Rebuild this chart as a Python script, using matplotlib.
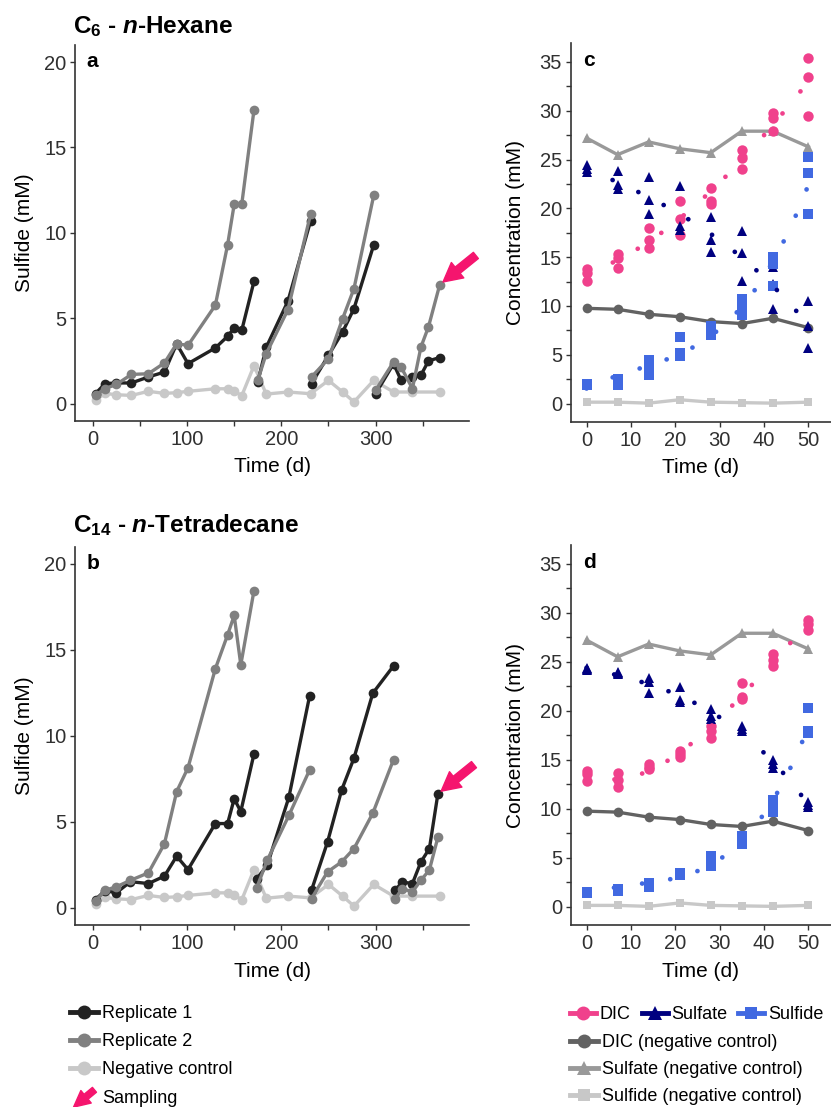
import numpy as np
import matplotlib
matplotlib.use("Agg")
import matplotlib.pyplot as plt
from matplotlib.lines import Line2D
from matplotlib.legend_handler import HandlerBase
from matplotlib.patches import FancyArrowPatch

plt.rcParams['font.family'] = ['Liberation Sans', 'DejaVu Sans']
plt.rcParams['mathtext.fontset'] = 'custom'
plt.rcParams['mathtext.rm'] = 'Liberation Sans'
plt.rcParams['mathtext.it'] = 'Liberation Sans:italic'
plt.rcParams['mathtext.bf'] = 'Liberation Sans:bold'
plt.rcParams['mathtext.bfit'] = 'Liberation Sans:bold:italic'

# ---------------- data: sulfide time courses (panels a, b) ----------------
HEX_TIME_SEGS = [[3, 13, 25, 41, 59, 76, 89, 101, 130, 143, 150, 158, 171],
                 [175, 184, 207, 231],
                 [232, 250, 265, 277, 298],
                 [300, 319, 327, 339, 348, 356, 368]]
HEX_REP1 = [[0.59, 1.17, 1.21, 1.21, 1.56, 1.85, 3.5, 2.34, 3.26, 3.94, 4.43, 4.29, 7.16],
            [1.27, 3.3, 6.0, 10.7],
            [1.17, 2.83, 4.2, 5.56, 9.3],
            [0.58, 2.34, 1.36, 1.56, 1.66, 2.5, 2.7]]
HEX_REP2 = [[0.49, 0.88, 1.12, 1.71, 1.75, 2.38, 3.51, 3.41, 5.76, 9.3, 11.67, 11.67, 17.2],
            [1.37, 2.93, 5.5, 11.1],
            [1.56, 2.63, 4.98, 6.73, 12.2],
            [0.78, 2.44, 2.14, 0.88, 3.31, 4.49, 6.97]]

TET_TIME_SEGS = [[3, 13, 25, 40, 59, 76, 89, 101, 130, 143, 150, 157, 171],
                 [174, 185, 208, 230],
                 [232, 249, 264, 277, 297, 319],
                 [321, 328, 339, 348, 357, 366]]
TET_REP1 = [[0.48, 1.0, 0.87, 1.52, 1.41, 1.84, 3.0, 2.22, 4.9, 4.9, 6.34, 5.6, 8.95],
            [1.7, 2.47, 6.43, 12.33],
            [1.02, 3.83, 6.86, 8.7, 12.48, 14.07],
            [1.03, 1.5, 1.41, 2.67, 3.44, 6.63]]
TET_REP2 = [[0.4, 1.02, 1.22, 1.6, 2.03, 3.72, 6.76, 8.14, 13.9, 15.87, 17.0, 14.13, 18.45],
            [1.18, 2.76, 5.37, 8.02],
            [0.54, 2.09, 2.67, 3.44, 5.5, 8.62],
            [0.54, 1.12, 0.93, 1.6, 2.2, 4.1]]

NEG_TIME = [3, 13, 25, 41, 59, 76, 89, 101, 130, 143, 150, 158, 171, 184, 207,
            231, 250, 265, 277, 298, 319, 339, 368]
NEG_CTRL = [0.2, 0.6, 0.52, 0.48, 0.72, 0.6, 0.64, 0.72, 0.87, 0.87, 0.74, 0.46, 2.22,
            0.56, 0.68, 0.58, 1.36, 0.68, 0.1, 1.36, 0.68, 0.68, 0.68]

# ---------------- data: incubation concentrations (panels c, d) ----------------
DAYS = [0, 7, 14, 21, 28, 35, 42, 50]
C_DIC = [[13.8, 13.4, 12.6], [15.3, 14.9, 13.9], [18.0, 16.8, 15.9], [20.8, 18.9, 17.3],
         [22.1, 20.8, 20.4], [26.0, 25.2, 24.0], [29.8, 29.3, 27.9], [35.4, 33.5, 29.5]]
C_SULFATE = [[24.4, 24.0, 23.7], [23.8, 22.4, 22.0], [23.2, 20.9, 19.4], [22.3, 18.2, 17.8],
             [19.1, 16.8, 15.5], [17.7, 15.4, 12.6], [14.0, 12.2, 9.7], [10.5, 7.9, 5.7]]
C_SULFIDE = [[2.0, 1.9, 1.9], [2.5, 2.2, 1.9], [4.5, 3.4, 2.9], [6.8, 5.2, 4.9],
             [7.9, 7.4, 7.0], [10.7, 9.8, 9.1], [15.0, 14.3, 12.0], [25.3, 23.6, 19.4]]
D_DIC = [[13.9, 13.5, 12.8], [13.6, 12.9, 12.2], [14.6, 14.3, 14.1], [15.9, 15.6, 15.3],
         [18.4, 17.9, 17.2], [22.8, 21.4, 21.2], [25.8, 25.2, 24.6], [29.3, 28.8, 28.2]]
D_SULFATE = [[24.4, 24.3, 24.2], [23.9, 23.8, 23.7], [23.3, 22.9, 21.8], [22.4, 21.1, 20.9],
             [20.2, 19.5, 19.2], [18.4, 18.1, 17.9], [15.0, 14.6, 14.2], [10.7, 10.4, 10.2]]
D_SULFIDE = [[1.5, 1.4, 1.4], [1.8, 1.7, 1.6], [2.4, 2.2, 2.0], [3.5, 3.3, 3.2],
             [5.2, 4.6, 4.2], [7.2, 6.8, 6.4], [10.9, 10.2, 9.7], [20.3, 17.9, 17.7]]
NC_DIC = [9.76, 9.66, 9.15, 8.9, 8.4, 8.2, 8.74, 7.78]
NC_SULFATE = [27.2, 25.5, 26.8, 26.1, 25.7, 27.9, 27.9, 26.3]
NC_SULFIDE = [0.15, 0.15, 0.05, 0.4, 0.15, 0.1, 0.05, 0.15]

# ---------------- styles ----------------
REP1_C = '#222222'
REP2_C = '#808080'
NEG_C = '#c8c8c8'
PINK = '#f0418c'
NAVY = '#000080'
BLUE = '#4169e1'
NC_DIC_C = '#626262'
NC_SULF_C = '#999999'
NC_SULFIDE_C = '#c8c8c8'
ARROW_C = '#f5156e'
AX_C = '#333333'
TICK_C = '#303030'

fig = plt.figure(figsize=(8.31, 11.07), dpi=100)
W, H = 831.0, 1107.0


def px_axes(l, r, t, b):
    return fig.add_axes([l / W, 1 - b / H, (r - l) / W, (b - t) / H])


ax_a = px_axes(75.3, 469, 45, 420.7)
ax_c = px_axes(571, 831, 43.3, 421.7)
ax_b = px_axes(75.3, 469, 546.7, 925)
ax_d = px_axes(571, 831, 545, 925)


def style(ax):
    for s in ['top', 'right']:
        ax.spines[s].set_visible(False)
    for s in ['left', 'bottom']:
        ax.spines[s].set_color(AX_C)
        ax.spines[s].set_linewidth(1.2)
    ax.tick_params(which='both', direction='out', length=3.5, width=1.0,
                   color=AX_C, labelsize=14.5, labelcolor=TICK_C, pad=3)


def sulfide_panel(ax, segs, rep1, rep2, letter, arrow_target):
    ax.plot(NEG_TIME, NEG_CTRL, '-o', color=NEG_C, lw=2.4, ms=7, mew=0, zorder=2)
    for ts, vs in zip(segs, rep1):
        ax.plot(ts, vs, '-o', color=REP1_C, lw=2.4, ms=7, mew=0, zorder=3)
    for ts, vs in zip(segs, rep2):
        ax.plot(ts, vs, '-o', color=REP2_C, lw=2.4, ms=7, mew=0, zorder=4)
    ax.set_xlim(-18.5, 399)
    ax.set_ylim(-1.0, 21.0)
    ax.set_xticks([0, 100, 200, 300])
    ax.set_xticks([50, 150, 250, 350], minor=True)
    ax.set_yticks([0, 5, 10, 15, 20])
    style(ax)
    ax.set_ylabel('Sulfide (mM)', fontsize=15, va='center')
    ax.yaxis.set_label_coords(-0.130, 0.5)
    ax.set_xlabel('Time (d)', fontsize=15, va='center')
    ax.xaxis.set_label_coords(0.5, -0.122)
    ax.text(0.028, 0.955, letter, transform=ax.transAxes, fontsize=15,
            fontweight='bold', va='center', ha='left')
    tx, ty = arrow_target
    ax.annotate('', xy=(tx, ty), xytext=(26, 21), textcoords='offset points',
                arrowprops=dict(arrowstyle='simple,head_length=0.9,head_width=0.95,tail_width=0.38',
                                color=ARROW_C, mutation_scale=15, shrinkA=0, shrinkB=3),
                annotation_clip=False, zorder=6)


def conc_panel(ax, dic, sulfate, sulfide, letter):
    t = np.array(DAYS, dtype=float)
    ax.plot(t, NC_SULFATE, '-^', color=NC_SULF_C, lw=2.4, ms=7, mew=0, zorder=2)
    ax.plot(t, NC_DIC, '-o', color=NC_DIC_C, lw=2.4, ms=7, mew=0, zorder=2)
    ax.plot(t, NC_SULFIDE, '-s', color=NC_SULFIDE_C, lw=2.4, ms=6, mew=0, zorder=2)
    tt = np.linspace(0, 50, 200)
    for vals, col, mk, ms in [(dic, PINK, 'o', 7.5), (sulfate, NAVY, '^', 7.5), (sulfide, BLUE, 's', 6.5)]:
        arr = np.array(vals, dtype=float)
        xs = np.repeat(t, arr.shape[1])
        ys = arr.ravel()
        ax.plot(xs, ys, ls='none', marker=mk, color=col, ms=ms, mew=0, zorder=3)
        coef = np.polyfit(xs, ys, 3)
        ax.plot(tt, np.polyval(coef, tt), color=col, lw=3.4, ls=(0, (0.02, 6.0)),
                dash_capstyle='round', zorder=4)
    ax.set_xlim(-3.5, 55.1)
    ax.set_ylim(-1.85, 36.9)
    ax.set_xticks([0, 10, 20, 30, 40, 50])
    ax.set_yticks([0, 5, 10, 15, 20, 25, 30, 35])
    ax.set_yticks([2.5, 7.5, 12.5, 17.5, 22.5, 27.5, 32.5], minor=True)
    style(ax)
    ax.set_ylabel('Concentration (mM)', fontsize=15, va='center')
    ax.yaxis.set_label_coords(-0.215, 0.5)
    ax.set_xlabel('Time (d)', fontsize=15, va='center')
    ax.xaxis.set_label_coords(0.5, -0.122)
    ax.text(0.045, 0.955, letter, transform=ax.transAxes, fontsize=15,
            fontweight='bold', va='center', ha='left')


sulfide_panel(ax_a, HEX_TIME_SEGS, HEX_REP1, HEX_REP2, 'a',
              (HEX_TIME_SEGS[-1][-1], HEX_REP2[-1][-1]))
sulfide_panel(ax_b, TET_TIME_SEGS, TET_REP1, TET_REP2, 'b',
              (TET_TIME_SEGS[-1][-1], TET_REP1[-1][-1]))
conc_panel(ax_c, C_DIC, C_SULFATE, C_SULFIDE, 'c')
conc_panel(ax_d, D_DIC, D_SULFATE, D_SULFIDE, 'd')

fig.text(72.7 / W, 1 - 33 / H, r'C$_{\mathbf{6}}$ - $\mathbfit{n}$-Hexane', fontsize=17.5,
         fontweight='bold', ha='left', va='baseline')
fig.text(72.7 / W, 1 - 532 / H, r'C$_{\mathbf{14}}$ - $\mathbfit{n}$-Tetradecane', fontsize=17.5,
         fontweight='bold', ha='left', va='baseline')


# ---------------- legends ----------------
class SamplingKey:
    pass


class SamplingHandler(HandlerBase):
    def create_artists(self, legend, orig_handle, xdescent, ydescent, width, height,
                       fontsize, trans):
        x0, y0 = -xdescent, -ydescent
        arr = FancyArrowPatch((x0 + width * 0.95, y0 + height * 1.15),
                              (x0 + width * 0.05, y0 - height * 0.5),
                              arrowstyle='simple,head_length=0.9,head_width=0.9,tail_width=0.35',
                              mutation_scale=13, color=ARROW_C, transform=trans)
        return [arr]


def key(color, marker, ms=10):
    return Line2D([], [], color=color, lw=3.5, marker=marker, ms=ms, mew=0)


leg1 = fig.legend([key(REP1_C, 'o'), key(REP2_C, 'o'), key(NEG_C, 'o'), SamplingKey()],
                  ['Replicate 1', 'Replicate 2', 'Negative control', 'Sampling'],
                  handler_map={SamplingKey: SamplingHandler()},
                  loc='upper left', bbox_to_anchor=(70 / W, 1 - 1005 / H),
                  frameon=False, fontsize=13, handlelength=1.55, handletextpad=0.25,
                  labelspacing=0.62, borderpad=0, borderaxespad=0)

leg2 = fig.legend([key(PINK, 'o'), key(NAVY, '^'), key(BLUE, 's', 9)],
                  ['DIC', 'Sulfate', 'Sulfide'], ncol=3,
                  loc='upper left', bbox_to_anchor=(570 / W, 1 - 1006 / H),
                  frameon=False, fontsize=13, handlelength=1.45, handletextpad=0.2,
                  columnspacing=0.6, borderpad=0, borderaxespad=0)

leg3 = fig.legend([key(NC_DIC_C, 'o'), key(NC_SULF_C, '^'), key(NC_SULFIDE_C, 's', 9)],
                  ['DIC (negative control)', 'Sulfate (negative control)',
                   'Sulfide (negative control)'],
                  loc='upper left', bbox_to_anchor=(570 / W, 1 - 1034 / H),
                  frameon=False, fontsize=13, handlelength=1.55, handletextpad=0.25,
                  labelspacing=0.55, borderpad=0, borderaxespad=0)

fig.savefig('out.png', dpi=100)
